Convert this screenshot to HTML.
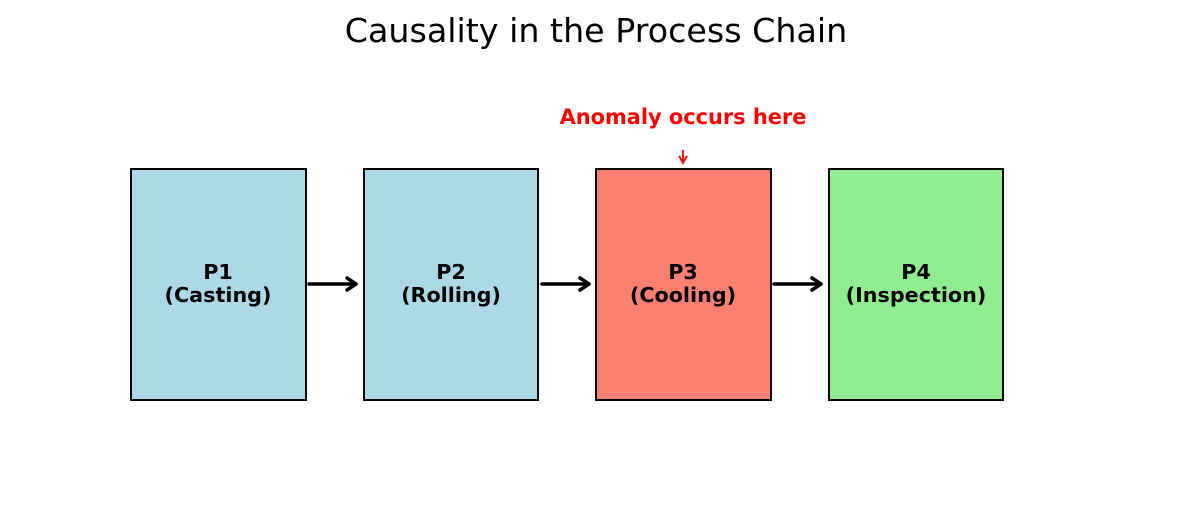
<!DOCTYPE html>
<html><head><meta charset="utf-8"><style>body{margin:0;background:#fff}svg{display:block}</style></head>
<body>
<svg width="1192" height="530" xmlns="http://www.w3.org/2000/svg" font-family="DejaVu Sans, Liberation Sans, sans-serif">
<text x="596" y="42" font-size="33.3" text-anchor="middle" fill="#000">Causality in the Process Chain</text>
<g stroke="#000" stroke-width="2">
<rect x="131" y="169" width="175" height="231" fill="#add8e6"/>
<rect x="364" y="169" width="174" height="231" fill="#add8e6"/>
<rect x="596" y="169" width="175" height="231" fill="#fa8072"/>
<rect x="829" y="169" width="174" height="231" fill="#90ee90"/>
</g>
<g font-size="20.7" font-weight="bold" text-anchor="middle" fill="#000">
<text x="218" y="279">P1</text><text x="218" y="302">(Casting)</text>
<text x="451" y="279">P2</text><text x="451" y="302">(Rolling)</text>
<text x="683" y="279">P3</text><text x="683" y="302">(Cooling)</text>
<text x="916" y="279">P4</text><text x="916" y="302">(Inspection)</text>
</g>
<g stroke="#000" stroke-width="3.5" fill="none" stroke-linecap="round" stroke-linejoin="round">
<path d="M309 284H355M347 278L356 284L347 290"/>
<path d="M542 284H588M580 278L589 284L580 290"/>
<path d="M774 284H820M812 278L821 284L812 290"/>
</g>
<text x="683" y="124" font-size="20.9" font-weight="bold" text-anchor="middle" fill="#ff0000">Anomaly occurs here</text>
<path d="M683 150V162M679 156L683 163L687 156" stroke="#ff0000" stroke-width="1.8" fill="none"/>
</svg>
</body></html>
